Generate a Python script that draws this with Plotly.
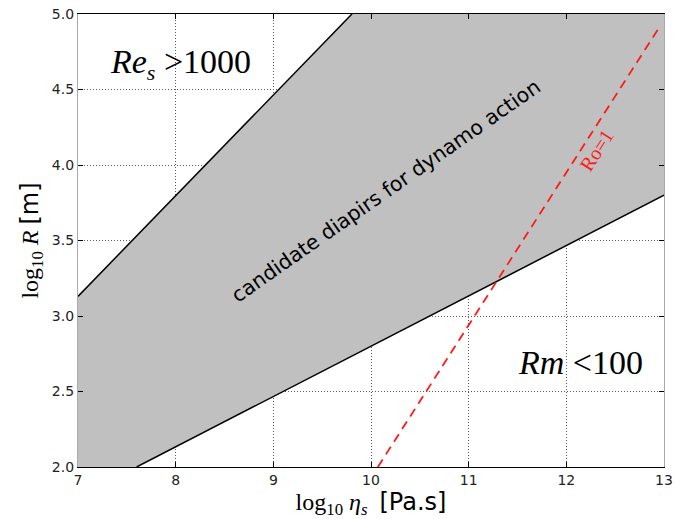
import plotly.graph_objects as go

# Axis ranges and ticks (log10 viscosity vs log10 radius)
x_range = [7.0, 13.0]
y_range = [2.0, 5.0]
x_ticks = [7, 8, 9, 10, 11, 12, 13]
x_tick_labels = ["7", "8", "9", "10", "11", "12", "13"]
y_ticks = [2.0, 2.5, 3.0, 3.5, 4.0, 4.5, 5.0]
y_tick_labels = ["2.0", "2.5", "3.0", "3.5", "4.0", "4.5", "5.0"]

# Boundary lines (end points in data units)
res_x = [7.0, 9.805]     # Re_s = 1000
res_y = [3.13, 5.0]
rm_x = [7.6, 13.0]       # Rm = 100
rm_y = [2.0, 3.8]
ro_x = [10.07, 12.96]    # Ro = 1
ro_y = [2.0, 4.92]

FILL = "#c0c0c0"
SERIF = "Liberation Serif"
SANS = "DejaVu Sans"

fig = go.Figure()

# Shaded region between the two boundaries, closed along the frame
poly_x = [x_range[0]] + res_x + [x_range[1]] + rm_x[::-1] + [x_range[0]]
poly_y = [y_range[0]] + res_y + [y_range[1]] + rm_y[::-1] + [y_range[0]]
fig.add_trace(go.Scatter(x=poly_x, y=poly_y, fill="toself", fillcolor=FILL,
                         mode="none", hoverinfo="skip", showlegend=False))

fig.add_trace(go.Scatter(x=res_x, y=res_y, mode="lines",
                         line=dict(color="black", width=1.5), showlegend=False))
fig.add_trace(go.Scatter(x=rm_x, y=rm_y, mode="lines",
                         line=dict(color="black", width=1.5), showlegend=False))
fig.add_trace(go.Scatter(x=ro_x, y=ro_y, mode="lines",
                         line=dict(color="#ff1a1a", width=1.8, dash="9px,6px"),
                         showlegend=False))

annotations = [
    dict(x=8.05, y=4.67,
         text="<i>Re</i><sub><i style='font-size:22px'>s</i></sub> &gt;1000",
         font=dict(family=SERIF, size=34, color="black")),
    dict(x=12.14, y=2.69, text="<i>Rm</i> &lt;100",
         font=dict(family=SERIF, size=34, color="black")),
    dict(x=10.15, y=3.83, text="candidate diapirs for dynamo action",
         textangle=-35, font=dict(family=SANS, size=20.5, color="black")),
    dict(x=12.31, y=4.10, text="Ro=1", textangle=-57,
         font=dict(family=SERIF, size=20, color="#ff1a1a")),
]
for a in annotations:
    a.update(xref="x", yref="y", showarrow=False, xanchor="center", yanchor="middle")

axis_common = dict(
    showgrid=True, gridcolor="#5a5a5a", griddash="1px,2px", gridwidth=1,
    ticks="inside", ticklen=5, tickcolor="black", mirror="ticks",
    showline=True, linewidth=1.3,
    tickfont=dict(family=SANS, size=14, color="#222222"),
    zeroline=False, automargin=False,
)

fig.update_layout(
    width=676, height=519,
    margin=dict(l=78, r=12, t=14, b=52),
    paper_bgcolor="white", plot_bgcolor="white",
    annotations=annotations,
    xaxis=dict(range=x_range, tickvals=x_ticks, ticktext=x_tick_labels,
               linecolor="black",
               title=dict(text="log<sub>10</sub> <i>η<sub>s</sub></i>  "
                               "<span style='font-family:DejaVu Sans'>[Pa.s]</span>",
                          font=dict(family=SERIF, size=24, color="black"),
                          standoff=2),
               **axis_common),
    yaxis=dict(range=y_range, tickvals=y_ticks, ticktext=y_tick_labels,
               linecolor="#aaaaaa",
               title=dict(text="log<sub>10</sub> <i>R</i> "
                               "<span style='font-family:DejaVu Sans'>[m]</span>",
                          font=dict(family=SERIF, size=24, color="black"),
                          standoff=6),
               **axis_common),
)

fig.write_html("out.html")
